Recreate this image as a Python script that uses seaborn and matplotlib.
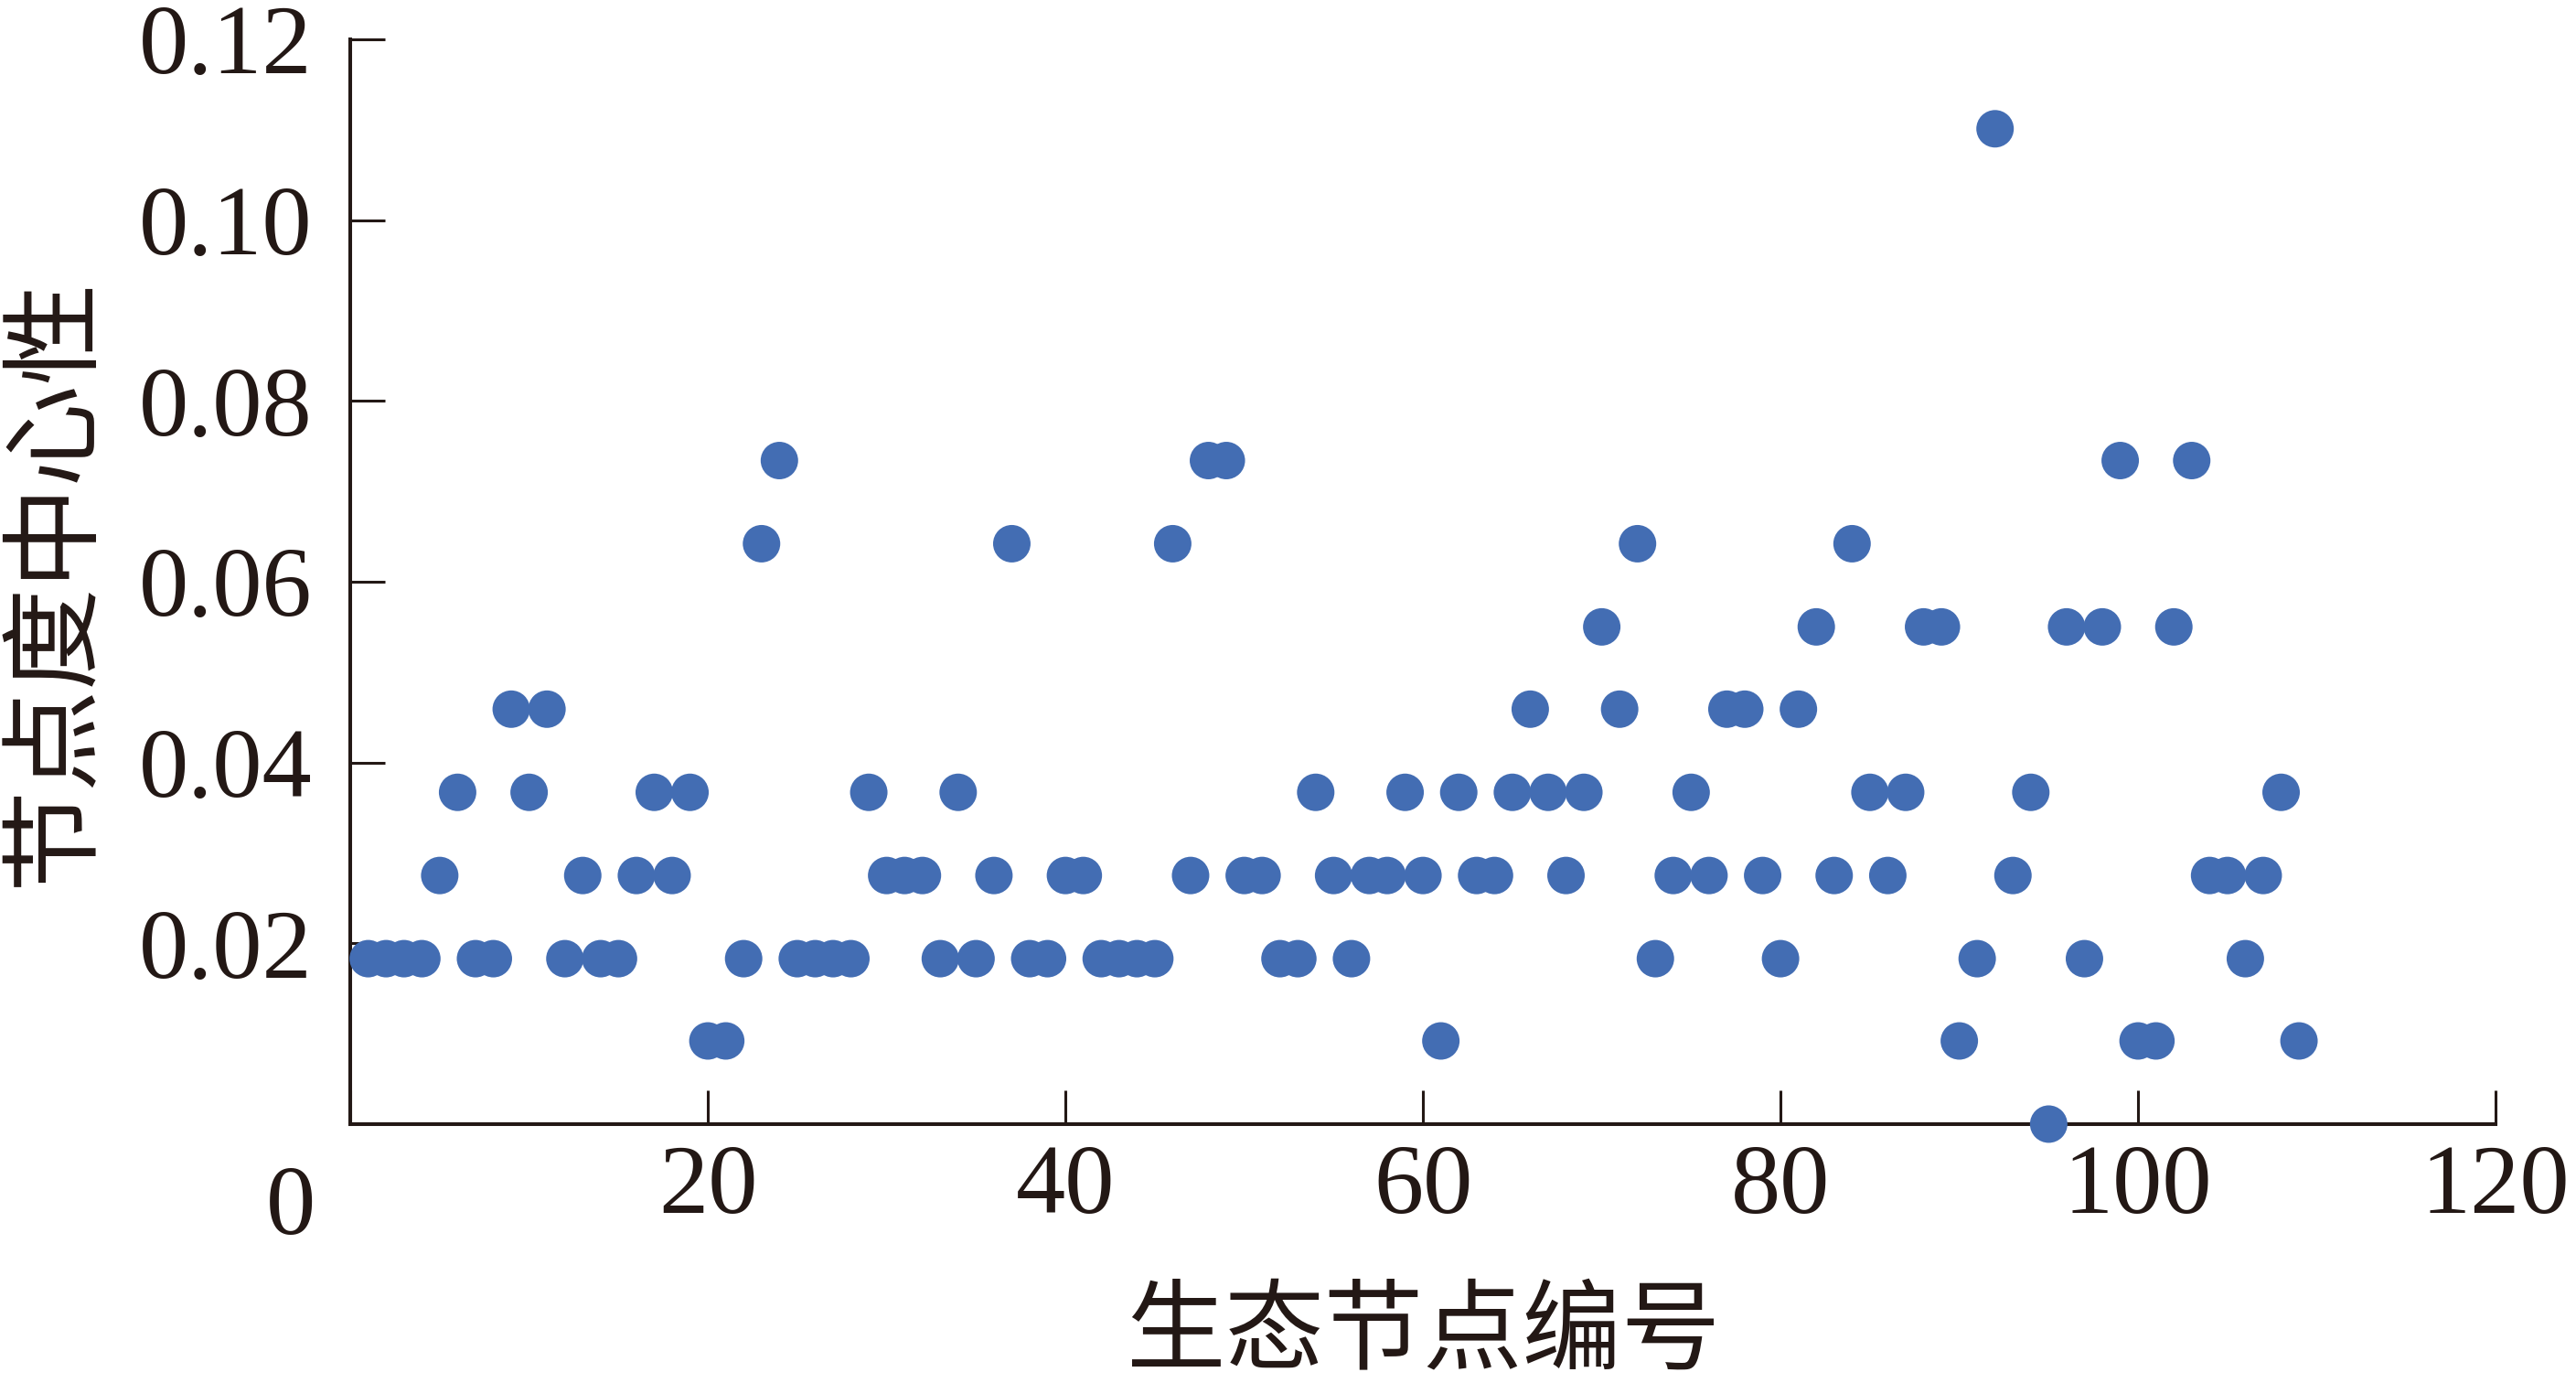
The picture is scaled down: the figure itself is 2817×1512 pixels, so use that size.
import pandas as pd
import seaborn as sns
import matplotlib.pyplot as plt

sns.set_style("ticks")
plt.rcParams['font.family'] = ['Liberation Serif', 'Noto Sans CJK SC']

# node id and degree centrality
node_id = list(range(1, 110))
degree_centrality = [
    0.0183, 0.0183, 0.0183, 0.0183, 0.0275, 0.0367, 0.0183, 0.0183, 0.0459, 0.0367,
    0.0459, 0.0183, 0.0275, 0.0183, 0.0183, 0.0275, 0.0367, 0.0275, 0.0367, 0.0092,
    0.0092, 0.0183, 0.0642, 0.0734, 0.0183, 0.0183, 0.0183, 0.0183, 0.0367, 0.0275,
    0.0275, 0.0275, 0.0183, 0.0367, 0.0183, 0.0275, 0.0642, 0.0183, 0.0183, 0.0275,
    0.0275, 0.0183, 0.0183, 0.0183, 0.0183, 0.0642, 0.0275, 0.0734, 0.0734, 0.0275,
    0.0275, 0.0183, 0.0183, 0.0367, 0.0275, 0.0183, 0.0275, 0.0275, 0.0367, 0.0275,
    0.0092, 0.0367, 0.0275, 0.0275, 0.0367, 0.0459, 0.0367, 0.0275, 0.0367, 0.0550,
    0.0459, 0.0642, 0.0183, 0.0275, 0.0367, 0.0275, 0.0459, 0.0459, 0.0275, 0.0183,
    0.0459, 0.0550, 0.0275, 0.0642, 0.0367, 0.0275, 0.0367, 0.0550, 0.0550, 0.0092,
    0.0183, 0.1101, 0.0275, 0.0367, 0.0000, 0.0550, 0.0183, 0.0550, 0.0734, 0.0092,
    0.0092, 0.0550, 0.0734, 0.0275, 0.0275, 0.0183, 0.0275, 0.0367, 0.0092,
]

x_ticks = [0, 20, 40, 60, 80, 100, 120]
x_tick_labels = ['', '20', '40', '60', '80', '100', '120']
y_ticks = [0.02, 0.04, 0.06, 0.08, 0.10, 0.12]
y_tick_labels = ['0.02', '0.04', '0.06', '0.08', '0.10', '0.12']

df = pd.DataFrame({'node': node_id, 'dc': degree_centrality})

ink = '#231815'
fig = plt.figure(figsize=(28.17, 15.12), dpi=100)
ax = fig.add_axes([0.136, 0.1872, 0.8328, 0.7844])

sns.scatterplot(x='node', y='dc', data=df, ax=ax, color='#436DB3', s=870,
                edgecolor='none', linewidth=0, clip_on=False, zorder=5)

ax.set_xlim(0, 120)
ax.set_ylim(0, 0.12)
ax.set_xticks(x_ticks)
ax.set_xticklabels(x_tick_labels)
ax.set_yticks(y_ticks)
ax.set_yticklabels(y_tick_labels)

sns.despine(ax=ax)
for side in ['left', 'bottom']:
    ax.spines[side].set_linewidth(2.9)
    ax.spines[side].set_color(ink)

ax.tick_params(axis='both', direction='in', length=27, width=2.2, color=ink,
               labelsize=78, labelcolor=ink)
ax.tick_params(axis='x', pad=16)
ax.tick_params(axis='y', pad=30)

# the lone origin label sits left of the axis corner
ax.text(-0.016, -0.038, '0', transform=ax.transAxes, ha='right', va='top',
        fontsize=78, color=ink)

cjk = ['Noto Sans CJK SC', 'DejaVu Sans']
ax.set_xlabel('生态节点编号', fontsize=78, color=ink, family=cjk)
ax.set_ylabel('节点度中心性', fontsize=80, color=ink, family=cjk)
ax.xaxis.set_label_coords(0.5, -0.146)
ax.yaxis.set_label_coords(-0.114, 0.5)

fig.savefig('out.png', dpi=100)
